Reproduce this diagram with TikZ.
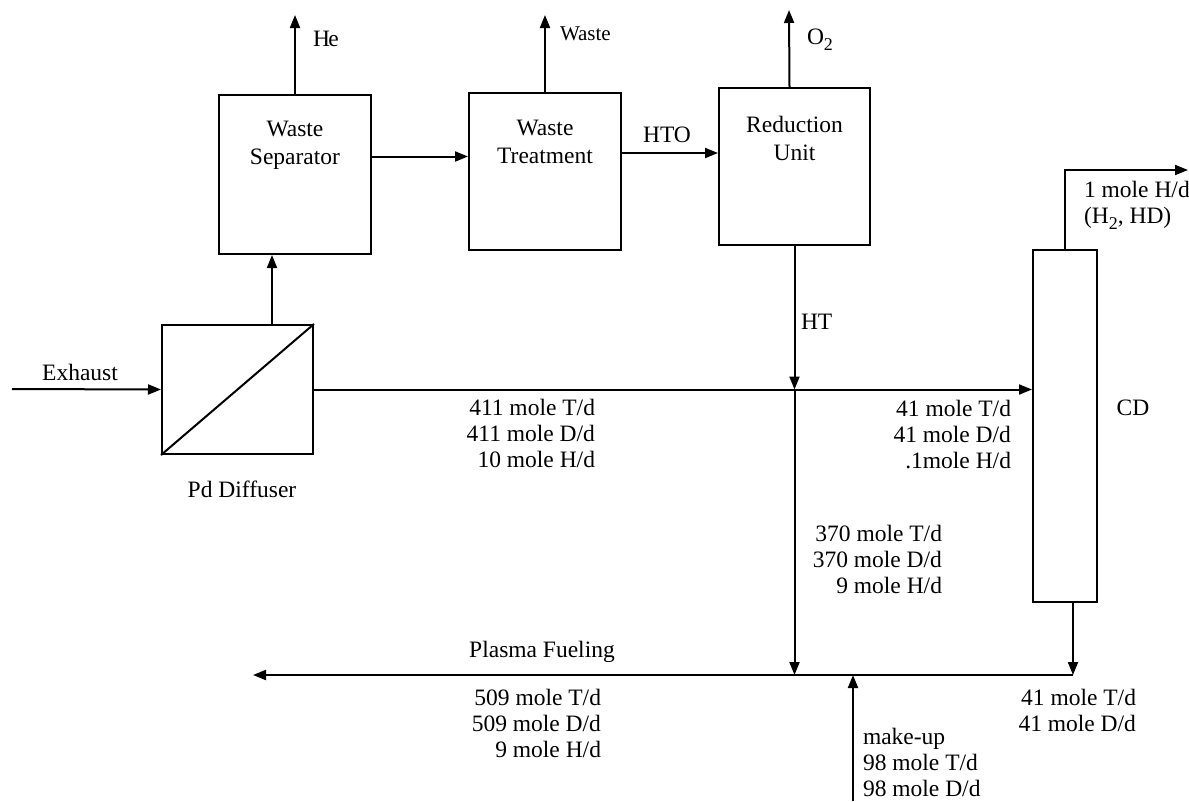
\documentclass[tikz,border=0pt]{standalone}
\usepackage{fontspec}
\setmainfont{Liberation Serif}
\usetikzlibrary{arrows.meta}
\newcommand{\subtwo}{\raisebox{-6pt}{\fontsize{18}{18}\selectfont 2}}
\begin{document}
\begin{tikzpicture}[x=1pt,y=-1pt,
  line width=2pt,
  arr/.style={-{Triangle[length=13pt,width=10pt]}},
  box/.style={draw, rectangle, inner sep=0pt, line width=2pt},
  lbl/.style={font=\fontsize{23.5}{26}\selectfont, inner sep=0pt},
  btxt/.style={font=\fontsize{23.5}{28}\selectfont, align=center, inner sep=0pt}]
\useasboundingbox (0,0) rectangle (1189,801);

% boxes
\node[box, minimum width=152pt, minimum height=159pt] (ws) at (295,174.5) {};
\node[box, minimum width=152pt, minimum height=157pt] (wt) at (545,171.5) {};
\node[box, minimum width=151pt, minimum height=157pt] (ru) at (794.5,166.5) {};
\node[box, minimum width=151pt, minimum height=129pt] (pd) at (237.5,389.5) {};
\node[box, minimum width=64pt, minimum height=352pt] (cd) at (1065,426) {};
\draw (pd.south west) -- (pd.north east);

\node[btxt] (wsl) at (295,145) {Waste\\Separator};
\node[btxt] (wtl) at (545,142) {Waste\\Treatment};
\node[btxt] (rul) at (794.5,138) {Reduction\\Unit};

% outlet coordinates
\coordinate (he) at (298,15);
\coordinate (wa) at (545,15);
\coordinate (ox) at (789,10);
\coordinate (ex) at (12,389);
\coordinate (h2) at (1188,170);
\coordinate (pf) at (253,675);
\coordinate (mu) at (853,801);

% top outlets
\draw[arr] (ws.north) -- (ws.north |- he);
\draw[arr] (wt.north) -- (wa);
\draw[arr] ([xshift=-5pt]ru.north) -- (ox);
\node[lbl, anchor=west, font=\fontsize{23.5}{26}\selectfont] (hel) at (312,39) {H\kern-1.5pt e};
\node[lbl, anchor=west, font=\fontsize{21}{24}\selectfont] (wal) at (559,34) {Waste};
\node[lbl, anchor=west] (oxl) at (806,40) {O\subtwo};

% flows between boxes
\draw[arr] ([yshift=18pt]ws.east) -- ([yshift=18pt]ws.east -| wt.west);
\draw[arr] ([yshift=18.5pt]wt.east) -- ([yshift=18.5pt]wt.east -| ru.west);
\node[lbl] (htol) at (667,135) {HTO};
\draw[arr] ([xshift=34.5pt]pd.north) -- ([xshift=34.5pt]pd.north |- ws.south);

% exhaust
\draw[arr] (ex) -- (pd.west);
\node[lbl] (exl) at (80,372) {Exhaust};
\node[lbl] (pdl) at (242,489) {Pd Diffuser};

% main line
\coordinate (j1) at (ru.south |- pd.east);
\coordinate (j2) at (ru.south |- pf);
\draw[arr] (pd.east) -- (pd.east -| cd.west);
\draw[arr] (ru.south) -- (j1);
\draw[arr] (j1) -- (j2);
\node[lbl, anchor=west] (htl) at (800,322) {HT};
\node[lbl, anchor=east, align=right] (f1) at (596,433) {411 mole T/d\\411 mole D/d\\10 mole H/d};
\node[lbl, anchor=east, align=right] (f2) at (1012,435) {41 mole T/d\\41 mole D/d\\.1mole H/d};
\node[lbl] (cdl) at (1133,408) {CD};
\node[lbl, anchor=east, align=right] (f3) at (943,559.5) {370 mole T/d\\370 mole D/d\\9 mole H/d};

% CD top outlet
\draw[arr] (cd.north) -- (cd.north |- h2) -- (h2);
\node[lbl, anchor=west, align=left] (h2l) at (1083,205) {1 mole H/d\\(H\subtwo, HD)};

% CD bottom and plasma fueling
\coordinate (cdo) at ([xshift=8pt]cd.south);
\coordinate (j3) at (cdo |- pf);
\draw[arr] (cdo) -- (j3);
\draw[arr] (j3) -- (pf);
\draw[arr] (mu) -- (mu |- pf);
\node[lbl] (pfl) at (542,652) {Plasma Fueling};
\node[lbl, anchor=east, align=right] (f4) at (602,723) {509 mole T/d\\509 mole D/d\\9 mole H/d};
\node[lbl, anchor=east, align=right] (f5) at (1137,710) {41 mole T/d\\41 mole D/d};
\node[lbl, anchor=west, align=left] (f6) at (862,762) {make-up\\98 mole T/d\\98 mole D/d};
\end{tikzpicture}
\end{document}
